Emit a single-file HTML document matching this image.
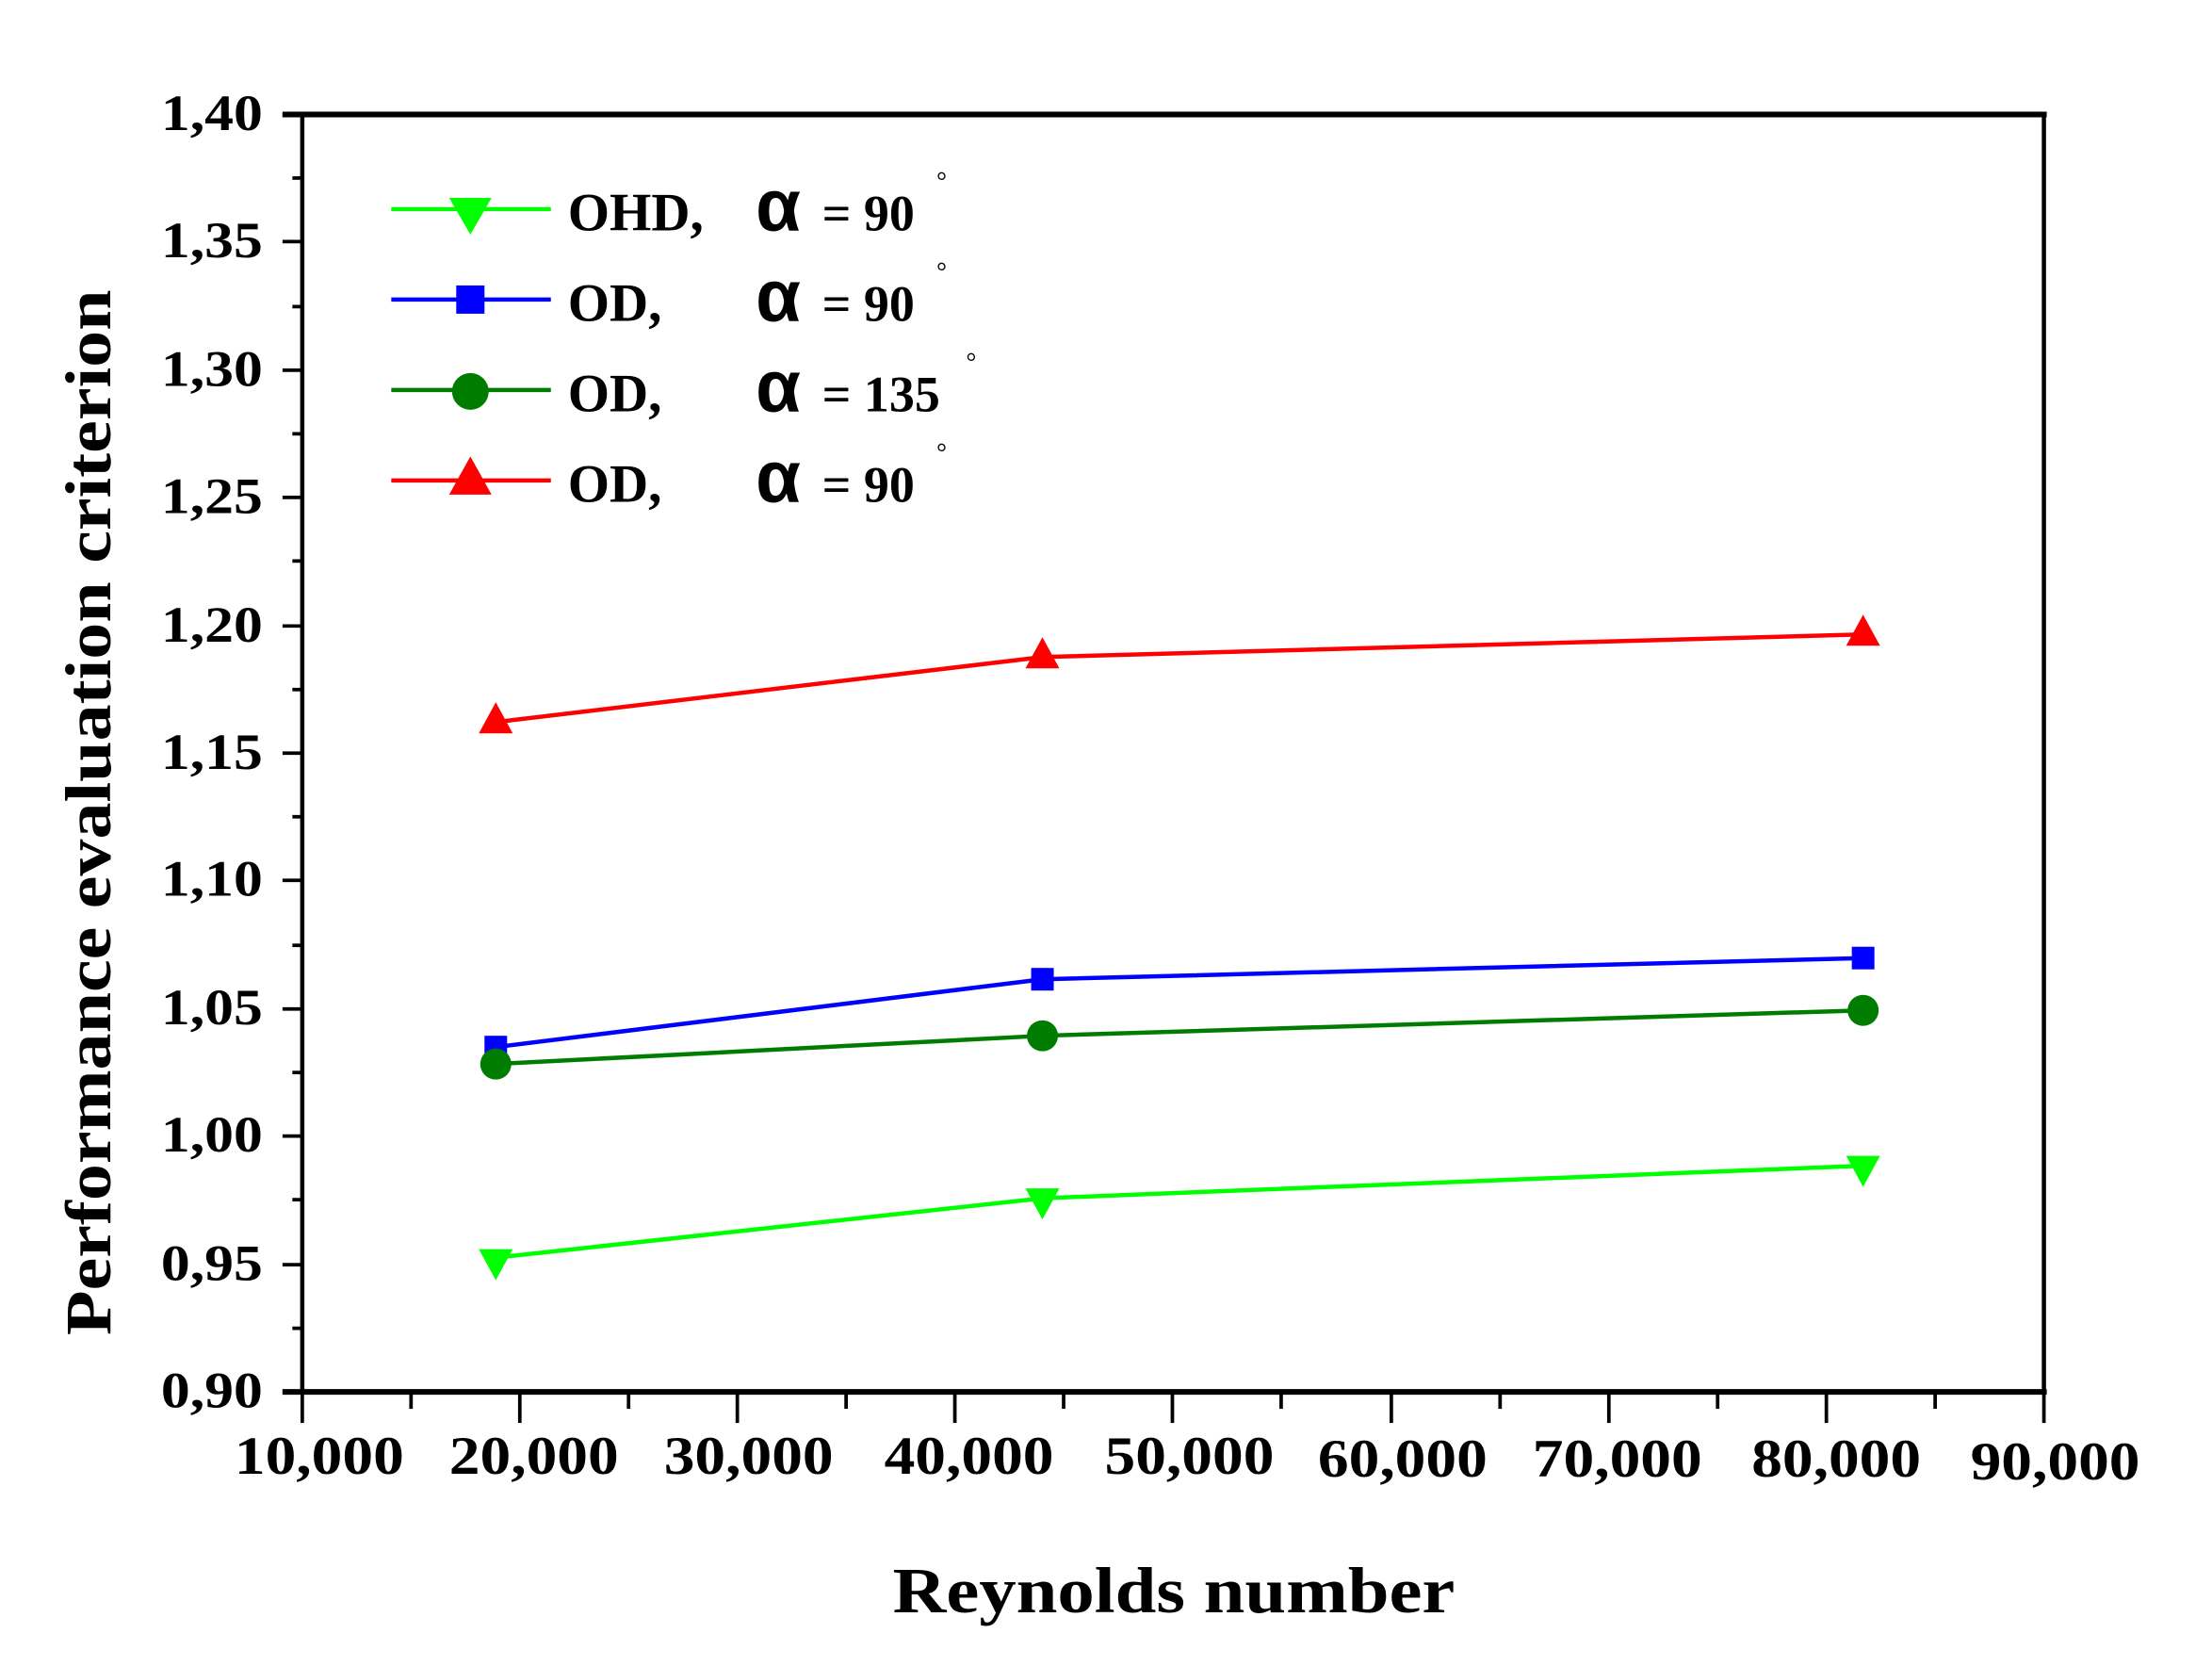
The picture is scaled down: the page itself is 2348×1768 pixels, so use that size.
<!DOCTYPE html>
<html><head><meta charset="utf-8"><style>
html,body{margin:0;padding:0;background:#fff;width:2348px;height:1768px;overflow:hidden}
svg{display:block}
text{font-family:"Liberation Serif",serif;font-weight:bold;fill:#000}
</style></head><body>
<svg width="2348" height="1768" viewBox="0 0 1566 1179" preserveAspectRatio="none">
<rect x="0" y="0" width="1566" height="1179" fill="#fff"/>
<rect x="214" y="81" width="1233" height="904" fill="none" stroke="#000" stroke-width="3"/>
<line x1="200" y1="985" x2="1449" y2="985" stroke="#000" stroke-width="4"/>
<line x1="200" y1="81" x2="1449" y2="81" stroke="#000" stroke-width="4"/>
<g stroke="#000" stroke-width="2.5">
<line x1="200" y1="81" x2="214" y2="81"/><line x1="207" y1="126" x2="214" y2="126"/>
<line x1="200" y1="171" x2="214" y2="171"/><line x1="207" y1="217" x2="214" y2="217"/>
<line x1="200" y1="262" x2="214" y2="262"/><line x1="207" y1="307" x2="214" y2="307"/>
<line x1="200" y1="352" x2="214" y2="352"/><line x1="207" y1="397" x2="214" y2="397"/>
<line x1="200" y1="443" x2="214" y2="443"/><line x1="207" y1="488" x2="214" y2="488"/>
<line x1="200" y1="533" x2="214" y2="533"/><line x1="207" y1="578" x2="214" y2="578"/>
<line x1="200" y1="623" x2="214" y2="623"/><line x1="207" y1="669" x2="214" y2="669"/>
<line x1="200" y1="714" x2="214" y2="714"/><line x1="207" y1="759" x2="214" y2="759"/>
<line x1="200" y1="804" x2="214" y2="804"/><line x1="207" y1="849" x2="214" y2="849"/>
<line x1="200" y1="895" x2="214" y2="895"/><line x1="207" y1="940" x2="214" y2="940"/>
<line x1="200" y1="985" x2="214" y2="985"/>
</g>
<g stroke="#000" stroke-width="2.5">
<line x1="214" y1="985" x2="214" y2="1007"/><line x1="291" y1="985" x2="291" y2="997"/>
<line x1="368" y1="985" x2="368" y2="1007"/><line x1="445" y1="985" x2="445" y2="997"/>
<line x1="522" y1="985" x2="522" y2="1007"/><line x1="599" y1="985" x2="599" y2="997"/>
<line x1="676" y1="985" x2="676" y2="1007"/><line x1="753" y1="985" x2="753" y2="997"/>
<line x1="830" y1="985" x2="830" y2="1007"/><line x1="907" y1="985" x2="907" y2="997"/>
<line x1="985" y1="985" x2="985" y2="1007"/><line x1="1062" y1="985" x2="1062" y2="997"/>
<line x1="1139" y1="985" x2="1139" y2="1007"/><line x1="1216" y1="985" x2="1216" y2="997"/>
<line x1="1293" y1="985" x2="1293" y2="1007"/><line x1="1370" y1="985" x2="1370" y2="997"/>
<line x1="1447" y1="985" x2="1447" y2="1007"/>
</g>
<g font-size="36" text-anchor="end">
<text x="186" y="92" textLength="72" lengthAdjust="spacingAndGlyphs">1,40</text>
<text x="186" y="182" textLength="72" lengthAdjust="spacingAndGlyphs">1,35</text>
<text x="186" y="273" textLength="72" lengthAdjust="spacingAndGlyphs">1,30</text>
<text x="186" y="363" textLength="72" lengthAdjust="spacingAndGlyphs">1,25</text>
<text x="186" y="454" textLength="72" lengthAdjust="spacingAndGlyphs">1,20</text>
<text x="186" y="544" textLength="72" lengthAdjust="spacingAndGlyphs">1,15</text>
<text x="186" y="634" textLength="72" lengthAdjust="spacingAndGlyphs">1,10</text>
<text x="186" y="725" textLength="72" lengthAdjust="spacingAndGlyphs">1,05</text>
<text x="186" y="815" textLength="72" lengthAdjust="spacingAndGlyphs">1,00</text>
<text x="186" y="906" textLength="72" lengthAdjust="spacingAndGlyphs">0,95</text>
<text x="186" y="996" textLength="72" lengthAdjust="spacingAndGlyphs">0,90</text>
</g>
<g font-size="38" text-anchor="middle">
<text x="226" y="1043" textLength="120" lengthAdjust="spacingAndGlyphs">10,000</text>
<text x="378" y="1043" textLength="120" lengthAdjust="spacingAndGlyphs">20,000</text>
<text x="530" y="1043" textLength="120" lengthAdjust="spacingAndGlyphs">30,000</text>
<text x="686" y="1043" textLength="120" lengthAdjust="spacingAndGlyphs">40,000</text>
<text x="842" y="1043" textLength="120" lengthAdjust="spacingAndGlyphs">50,000</text>
<text x="993" y="1045" textLength="120" lengthAdjust="spacingAndGlyphs">60,000</text>
<text x="1145" y="1045" textLength="120" lengthAdjust="spacingAndGlyphs">70,000</text>
<text x="1300" y="1045" textLength="120" lengthAdjust="spacingAndGlyphs">80,000</text>
<text x="1455" y="1047" textLength="120" lengthAdjust="spacingAndGlyphs">90,000</text>
</g>
<text x="831" y="1141" font-size="46" text-anchor="middle" textLength="398" lengthAdjust="spacingAndGlyphs">Reynolds number</text>
<text transform="translate(78,575) rotate(-90)" font-size="46" text-anchor="middle" textLength="740" lengthAdjust="spacingAndGlyphs">Performance evaluation criterion</text>
<polyline points="351,511 738,465 1319,449" fill="none" stroke="#ff0000" stroke-width="3"/>
<polyline points="351,741 738,693 1319,678" fill="none" stroke="#0000ff" stroke-width="3"/>
<polyline points="351,753 738,733 1319,715" fill="none" stroke="#007d00" stroke-width="3"/>
<polyline points="351,890 738,848 1319,825" fill="none" stroke="#00ff00" stroke-width="3"/>
<g fill="#ff0000"><polygon points="351,497 339,519 363,519"/><polygon points="738,451 726,473 750,473"/><polygon points="1319,435 1307,457 1331,457"/></g>
<g fill="#0000ff"><rect x="343" y="733" width="16" height="16"/><rect x="730" y="685" width="16" height="16"/><rect x="1311" y="670" width="16" height="16"/></g>
<g fill="#007d00"><circle cx="351" cy="753" r="11"/><circle cx="738" cy="733" r="11"/><circle cx="1319" cy="715" r="11"/></g>
<g fill="#00ff00"><polygon points="351,906 339,884 363,884"/><polygon points="738,863 726,841 750,841"/><polygon points="1319,840 1307,818 1331,818"/></g>
<line x1="277" y1="148" x2="390" y2="148" stroke="#00ff00" stroke-width="3"/>
<polygon points="333,166 318,140 348,140" fill="#00ff00"/>
<line x1="277" y1="212" x2="390" y2="212" stroke="#0000ff" stroke-width="3"/>
<rect x="323" y="202" width="20" height="20" fill="#0000ff"/>
<line x1="277" y1="276" x2="390" y2="276" stroke="#007d00" stroke-width="3"/>
<circle cx="333" cy="277" r="13" fill="#007d00"/>
<line x1="277" y1="340" x2="390" y2="340" stroke="#ff0000" stroke-width="3"/>
<polygon points="333,323 318,350 348,350" fill="#ff0000"/>
<g font-size="38">
<text x="402" y="163">OHD,</text>
<text x="402" y="227">OD,</text>
<text x="402" y="291">OD,</text>
<text x="402" y="355">OD,</text>
</g>
<g font-size="52">
<text x="535" y="163" style="font-family:'Liberation Sans',sans-serif">α</text>
<text x="535" y="227" style="font-family:'Liberation Sans',sans-serif">α</text>
<text x="535" y="291" style="font-family:'Liberation Sans',sans-serif">α</text>
<text x="535" y="355" style="font-family:'Liberation Sans',sans-serif">α</text>
</g>
<g font-size="36">
<text x="582" y="163">= 90</text>
<text x="582" y="227">= 90</text>
<text x="582" y="291">= 135</text>
<text x="582" y="355">= 90</text>
</g>
<g font-size="18">
<text x="663" y="134" style="font-weight:normal">°</text>
<text x="663" y="198" style="font-weight:normal">°</text>
<text x="684" y="262" style="font-weight:normal">°</text>
<text x="663" y="326" style="font-weight:normal">°</text>
</g>
</svg>
</body></html>
